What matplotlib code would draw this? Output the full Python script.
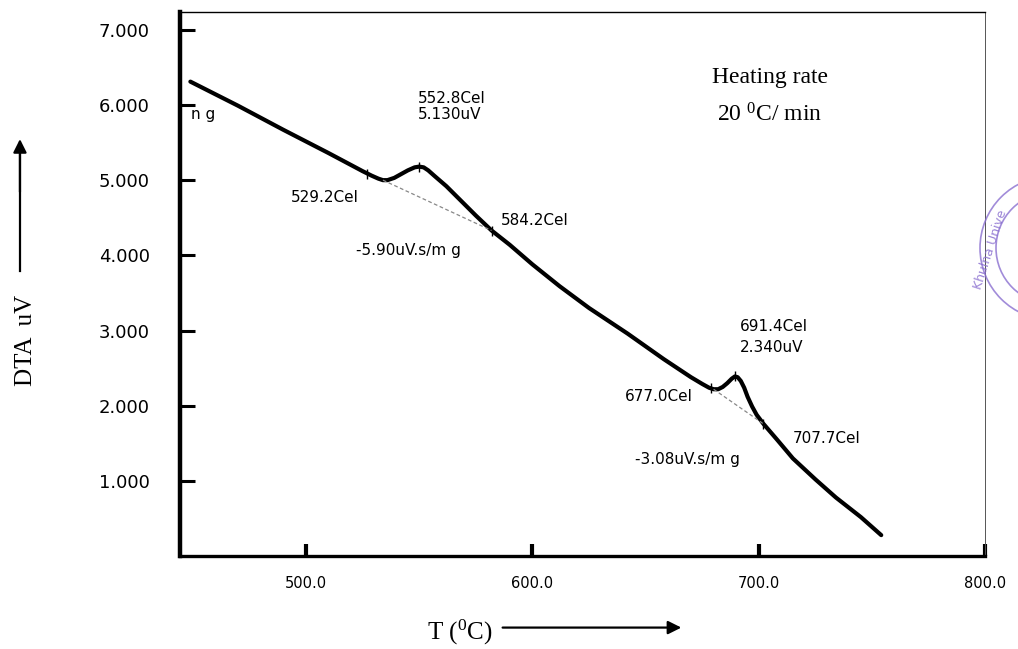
import matplotlib
matplotlib.use("Agg")
import matplotlib.pyplot as plt
from matplotlib.patches import Ellipse

plt.rcParams['mathtext.fontset'] = 'custom'
plt.rcParams['mathtext.rm'] = 'Liberation Serif'
plt.rcParams['mathtext.it'] = 'Liberation Serif:italic'

# ---- data ----
temp = [449, 470, 490, 510, 525, 529, 532, 534, 536, 539, 542, 545, 548, 550,
        552, 554, 557, 562, 568, 575, 582, 590, 600, 612, 625, 642, 658, 670,
        675, 678, 680, 682, 684, 686, 688, 689.4, 690.6, 692, 693.5, 695, 697,
        699, 702, 708, 715, 725, 734, 745, 754]
dta = [6.31, 5.99, 5.67, 5.36, 5.12, 5.06, 5.02, 5.00, 5.00, 5.03, 5.08, 5.13,
       5.17, 5.18, 5.17, 5.13, 5.05, 4.92, 4.74, 4.53, 4.33, 4.14, 3.88, 3.59,
       3.30, 2.96, 2.62, 2.38, 2.29, 2.24, 2.22, 2.22, 2.25, 2.30, 2.36, 2.39,
       2.38, 2.33, 2.24, 2.12, 1.99, 1.88, 1.76, 1.55, 1.30, 1.02, 0.78, 0.52,
       0.28]

base1_t = [534, 582]
base1_y = [5.00, 4.33]
base2_t = [680, 702]
base2_y = [2.22, 1.76]

mark_t = [527, 550, 582, 679, 689.4, 702]
mark_y = [5.08, 5.18, 4.33, 2.23, 2.39, 1.76]

xticks = [500, 600, 700, 800]
xtick_labels = ["500.0", "600.0", "700.0", "800.0"]
yticks = [1, 2, 3, 4, 5, 6, 7]
ytick_labels = ["1.000", "2.000", "3.000", "4.000", "5.000", "6.000", "7.000"]

annots = [
    ("n g", 449.3, 5.87),
    ("552.8Cel", 549.3, 6.09),
    ("5.130uV", 549.3, 5.87),
    ("529.2Cel", 493.4, 4.77),
    ("584.2Cel", 585.9, 4.47),
    ("-5.90uV.s/m g", 522.0, 4.07),
    ("691.4Cel", 691.6, 3.05),
    ("2.340uV", 691.6, 2.77),
    ("677.0Cel", 641.0, 2.12),
    ("707.7Cel", 715.0, 1.56),
    ("-3.08uV.s/m g", 645.4, 1.28),
]

# ---- figure ----
fig = plt.figure(figsize=(10.18, 6.49), dpi=100)
ax = fig.add_axes([0.177, 0.143, 0.791, 0.839])

ax.plot(temp, dta, color='black', lw=3.0, solid_joinstyle='round', solid_capstyle='round')
ax.plot(base1_t, base1_y, color='#888888', lw=0.9, ls=(0, (3, 2)))
ax.plot(base2_t, base2_y, color='#888888', lw=0.9, ls=(0, (3, 2)))
ax.plot(mark_t, mark_y, ls='none', marker='|', ms=7, mew=1.0, color='black')

ax.set_xlim(444.5, 800)
ax.set_ylim(0, 7.24)

ax.set_xticks(xticks)
ax.set_xticklabels(xtick_labels, fontsize=10.5, family='DejaVu Sans')
ax.set_yticks(yticks)
ax.set_yticklabels(ytick_labels, fontsize=13, family='DejaVu Sans')
ax.tick_params(axis='x', direction='in', length=9, width=3, pad=14)
ax.tick_params(axis='y', direction='in', length=11, width=2.2, pad=22)

ax.spines['left'].set_linewidth(3.2)
ax.spines['bottom'].set_linewidth(2.4)
ax.spines['top'].set_linewidth(1.0)
ax.spines['right'].set_linewidth(0.7)
ax.spines['right'].set_color('#555555')

for txt, x, y in annots:
    ax.text(x, y, txt, fontsize=11, family='DejaVu Sans', ha='left', va='center')

ax.text(704.8, 6.36, "Heating rate", fontsize=17, family='Liberation Serif',
        ha='center', va='center')
ax.text(704.8, 5.87, r"20 $^{\mathrm{0}}$C/ min", fontsize=17, family='Liberation Serif',
        ha='center', va='center')

# axis labels with arrows
fig.text(0.026, 0.475, "DTA  uV", rotation=90, fontsize=18, family='Liberation Serif',
         ha='center', va='center')
fig.add_artist(plt.Line2D([0.0196, 0.0196], [0.583, 0.77], color='black', lw=1.6,
                          transform=fig.transFigure))
ax.annotate("", xy=(0.0196, 0.79), xytext=(0.0196, 0.70), xycoords='figure fraction',
            textcoords='figure fraction',
            arrowprops=dict(arrowstyle='-|>', color='black', lw=1.6, mutation_scale=20))

fig.text(0.452, 0.026, r"T ($^{\mathrm{0}}$C)", fontsize=18, family='Liberation Serif',
         ha='center', va='center')
ax.annotate("", xy=(0.672, 0.033), xytext=(0.491, 0.033), xycoords='figure fraction',
            textcoords='figure fraction',
            arrowprops=dict(arrowstyle='-|>', color='black', lw=1.6, mutation_scale=20))

# partial stamp at the right edge
W, H = 1018, 649
for r in (72, 56):
    fig.add_artist(Ellipse((1052 / W, 1 - 248 / H), 2 * r / W, 2 * r / H,
                           transform=fig.transFigure, fill=False,
                           edgecolor='#8a6fd0', lw=1.2, alpha=0.8))
fig.text(990 / W, 1 - 250 / H, "Khulna Unive", rotation=72, fontsize=9,
         color='#8a6fd0', alpha=0.85, ha='center', va='center')

fig.savefig("out.png", dpi=100)
